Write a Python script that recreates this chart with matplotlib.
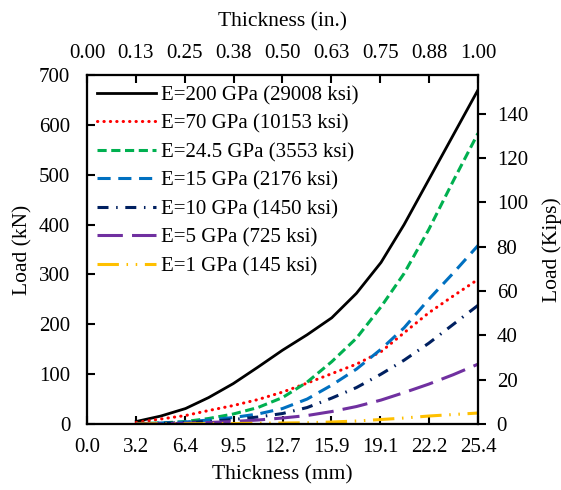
import matplotlib
matplotlib.use("Agg")
import matplotlib.pyplot as plt

plt.rcParams['font.family'] = ['Liberation Serif', 'DejaVu Serif']
plt.rcParams['font.size'] = 15

thickness_mm = [3.2, 4.8, 6.4, 7.9, 9.5, 11.1, 12.7, 14.3, 15.9, 17.5, 19.1, 20.6, 22.2, 23.8, 25.4]

load_E200 = [5, 16, 31, 53, 81, 114, 148, 179, 213, 262, 324, 400, 490, 580, 670]
load_E70 = [3, 10, 17, 27, 37, 49, 64, 82, 101, 120, 145, 183, 223, 257, 290]
load_E24_5 = [1, 2, 5, 11, 20, 33, 53, 84, 125, 172, 235, 302, 390, 488, 583]
load_E15 = [0.5, 2, 4, 8, 13, 20, 31, 50, 78, 110, 150, 193, 250, 303, 358]
load_E10 = [0.3, 1, 3, 5, 9, 14, 21, 33, 52, 73, 100, 128, 162, 200, 238]
load_E5 = [0.2, 0.5, 1.5, 3, 5, 8, 12, 17, 25, 35, 48, 63, 80, 99, 120]
load_E1 = [0, 0.2, 0.4, 0.7, 1, 1.5, 2, 2.5, 4, 6, 9, 12, 16, 19, 22]

labels = ["E=200 GPa (29008 ksi)", "E=70 GPa (10153 ksi)", "E=24.5 GPa (3553 ksi)",
          "E=15 GPa (2176 ksi)", "E=10 GPa (1450 ksi)", "E=5 GPa (725 ksi)",
          "E=1 GPa (145 ksi)"]

mm_tick_labels = ["0.0", "3.2", "6.4", "9.5", "12.7", "15.9", "19.1", "22.2", "25.4"]
in_tick_labels = ["0.00", "0.13", "0.25", "0.38", "0.50", "0.63", "0.75", "0.88", "1.00"]
kn_ticks = [0, 100, 200, 300, 400, 500, 600, 700]
kip_ticks = [0, 20, 40, 60, 80, 100, 120, 140]

series = [load_E200, load_E70, load_E24_5, load_E15, load_E10, load_E5, load_E1]
colors = ["#000000", "#FF0000", "#00B050", "#0070C0", "#002060", "#7030A0", "#FFC000"]
styles = ["-", (0, (0.1, 2.0)), (0, (3, 1.5)), (0, (4.3, 2.5)), (0, (3.6, 2.5, 0.5, 2.5)),
          (0, (8.3, 3)), (0, (7, 2.5, 0.5, 2.5, 0.5, 2.5))]
widths = [2.0, 2.2, 2.2, 2.2, 2.2, 2.2, 2.2]

TICK_FS = 15
LABEL_FS = 15.5

fig = plt.figure(figsize=(5.61, 4.9), dpi=100)
ax = fig.add_axes([87/561, 66/490, (478-87)/561, (424-75)/490])

for y, c, ls, lw, lab in zip(series, colors, styles, widths, labels):
    line, = ax.plot(thickness_mm, y, color=c, linestyle=ls, lw=lw, label=lab)
    if ls == styles[1]:
        line.set_dash_capstyle('round')

ax.set_xlim(0, 25.4)
ax.set_ylim(0, 700)
ax.set_xticks([k * 25.4 / 8 for k in range(9)])
ax.set_xticklabels(mm_tick_labels)
ax.set_yticks(kn_ticks)
ax.tick_params(axis='both', direction='in', length=6, width=1.5, labelsize=TICK_FS)
ax.tick_params(axis='x', pad=10)
ax.tick_params(axis='y', pad=12)
ax.set_xlabel("Thickness (mm)", fontsize=LABEL_FS, labelpad=6)
ax.set_ylabel("Load (kN)", fontsize=LABEL_FS, labelpad=5)
for s in ax.spines.values():
    s.set_linewidth(1.5)

ax2 = ax.twinx()
ax2.set_ylim(0, 700 / 4.448222)
ax2.set_yticks(kip_ticks)
ax2.tick_params(axis='y', direction='out', length=6, width=1.5, labelsize=TICK_FS, pad=7.5)
ax2.set_ylabel("Load (Kips)", fontsize=LABEL_FS, labelpad=10)

ax3 = ax.twiny()
ax3.set_xlim(0, 1)
ax3.set_xticks([k / 8 for k in range(9)])
ax3.set_xticklabels(in_tick_labels)
ax3.tick_params(axis='x', direction='in', length=6, width=1.5, labelsize=TICK_FS, pad=9)
ax3.set_xlabel("Thickness (in.)", fontsize=LABEL_FS, labelpad=12)
for a in (ax2, ax3):
    for s in a.spines.values():
        s.set_linewidth(1.5)

ax.legend(loc='upper left', frameon=False, fontsize=15, handlelength=2.8,
          handletextpad=0.25, labelspacing=0.43, borderaxespad=0.1,
          bbox_to_anchor=(0.0, 1.0))

fig.savefig("out.png", dpi=100)
